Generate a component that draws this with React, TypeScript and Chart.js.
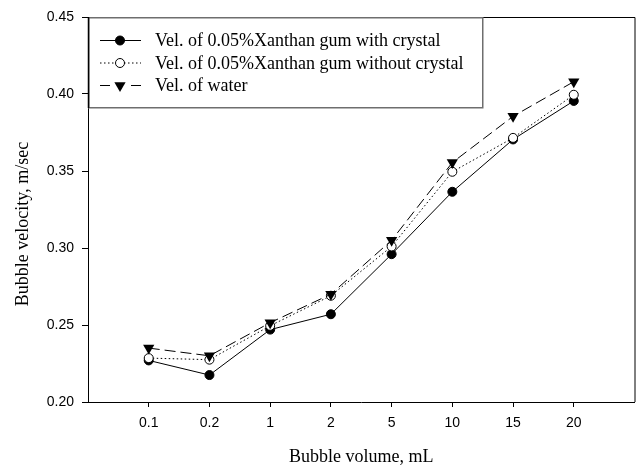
import React, { useEffect, useRef } from "react";
import { Chart, registerables } from "chart.js";

Chart.register(...registerables);

const categories = ["0.1", "0.2", "1", "2", "5", "10", "15", "20"];
const withCrystal = [0.227, 0.2175, 0.247, 0.257, 0.296, 0.3365, 0.3705, 0.3955];
const withoutCrystal = [0.2285, 0.2275, 0.2495, 0.269, 0.301, 0.3495, 0.3715, 0.3995];
const water = [0.235, 0.23, 0.2515, 0.27, 0.305, 0.3555, 0.3855, 0.408];
const seriesLabels = [
  "Vel. of 0.05%Xanthan gum with crystal",
  "Vel. of 0.05%Xanthan gum without crystal",
  "Vel. of water",
];
const yTicks = [0.2, 0.25, 0.3, 0.35, 0.4, 0.45];
const xTitle = "Bubble volume, mL";
const yTitle = "Bubble velocity, m/sec";

const toPoints = (arr: number[]) => arr.map((v, i) => ({ x: i, y: v }));

function drawMarker(ctx: CanvasRenderingContext2D, kind: string, x: number, y: number) {
  ctx.save();
  ctx.setLineDash([]);
  ctx.lineWidth = 1;
  ctx.strokeStyle = "#000";
  if (kind === "filled" || kind === "open") {
    ctx.beginPath();
    ctx.arc(x, y, 4.5, 0, Math.PI * 2);
    ctx.fillStyle = kind === "filled" ? "#000" : "#fff";
    ctx.fill();
    ctx.stroke();
  } else {
    const r = 6.5;
    ctx.beginPath();
    ctx.moveTo(x - r * 0.866, y - r * 0.5);
    ctx.lineTo(x + r * 0.866, y - r * 0.5);
    ctx.lineTo(x, y + r);
    ctx.closePath();
    ctx.fillStyle = "#000";
    ctx.fill();
  }
  ctx.restore();
}

const markerKinds = ["filled", "open", "tri"];

const framePlugin = {
  id: "frame",
  afterDatasetsDraw(chart: any) {
    const { ctx, chartArea } = chart;
    const { left, right, top, bottom } = chartArea;
    ctx.save();
    ctx.strokeStyle = "#000";
    ctx.lineWidth = 1;
    ctx.beginPath();
    ctx.moveTo(left, top + 0.5);
    ctx.lineTo(right + 0.5, top + 0.5);
    ctx.lineTo(right + 0.5, bottom);
    ctx.stroke();
    ctx.restore();
  },
};

const titlesPlugin = {
  id: "axisTitles",
  afterDraw(chart: any) {
    const { ctx, chartArea } = chart;
    const { left, right } = chartArea;
    ctx.save();
    ctx.fillStyle = "#000";
    ctx.font = '18px "Liberation Serif"';
    ctx.textAlign = "center";
    ctx.textBaseline = "middle";
    ctx.fillText(xTitle, (left + right) / 2, 457);
    ctx.translate(23, 224);
    ctx.rotate(-Math.PI / 2);
    ctx.fillText(yTitle, 0, 0);
    ctx.restore();
  },
};

const legendPlugin = {
  id: "boxLegend",
  afterDraw(chart: any) {
    const { ctx, chartArea } = chart;
    const { left, top } = chartArea;
    const boxW = 394;
    const boxH = 90;
    ctx.save();
    ctx.fillStyle = "#fff";
    ctx.fillRect(left, top, boxW, boxH);
    ctx.strokeStyle = "#6e6e6e";
    ctx.lineWidth = 1.5;
    ctx.strokeRect(left + 0.75, top + 0.75, boxW, boxH);
    ctx.strokeStyle = "#000";
    ctx.lineWidth = 1.5;
    ctx.beginPath();
    ctx.moveTo(left + 0.5, top);
    ctx.lineTo(left + 0.5, top + boxH + 1);
    ctx.stroke();
    chart.data.datasets.forEach((ds: any, i: number) => {
      const y = top + 23.5 + i * 22.5;
      ctx.strokeStyle = "#000";
      ctx.lineWidth = 1;
      ctx.setLineDash(ds.borderDash || []);
      ctx.beginPath();
      if (i === 2) {
        ctx.setLineDash([]);
        ctx.moveTo(left + 12, y);
        ctx.lineTo(left + 22, y);
        ctx.moveTo(left + 43, y);
        ctx.lineTo(left + 53, y);
      } else {
        ctx.moveTo(left + 12, y);
        ctx.lineTo(left + 53, y);
      }
      ctx.stroke();
      ctx.setLineDash([]);
      drawMarker(ctx, markerKinds[i], left + 32, y);
      ctx.fillStyle = "#000";
      ctx.font = '18px "Liberation Serif"';
      ctx.textBaseline = "middle";
      ctx.textAlign = "left";
      ctx.fillText(seriesLabels[i], left + 67, y + 1);
    });
    ctx.restore();
  },
};

export default function App() {
  const ref = useRef<HTMLCanvasElement | null>(null);
  useEffect(() => {
    if (!ref.current) return;
    const chart = new Chart(ref.current, {
      type: "line",
      data: {
        datasets: [
          {
            label: seriesLabels[0],
            data: toPoints(withCrystal),
            borderColor: "#000",
            borderWidth: 1,
            backgroundColor: "#000",
            pointStyle: "circle",
            pointRadius: 4.5,
            pointBorderColor: "#000",
            pointBackgroundColor: "#000",
            pointBorderWidth: 1,
            order: 3,
          },
          {
            label: seriesLabels[1],
            data: toPoints(withoutCrystal),
            borderColor: "#000",
            borderWidth: 1,
            borderDash: [1.5, 2.5],
            pointStyle: "circle",
            pointRadius: 4.5,
            pointBorderColor: "#000",
            pointBackgroundColor: "#fff",
            pointBorderWidth: 1,
            order: 2,
          },
          {
            label: seriesLabels[2],
            data: toPoints(water),
            borderColor: "#000",
            borderWidth: 1,
            borderDash: [11, 5],
            pointStyle: "triangle",
            rotation: 180,
            pointRadius: 6.5,
            pointBorderColor: "#000",
            pointBackgroundColor: "#000",
            pointBorderWidth: 0,
            order: 1,
          } as any,
        ],
      },
      options: {
        animation: false,
        responsive: false,
        devicePixelRatio: 1,
        layout: { padding: { top: 17, right: 3, left: 0, bottom: 0 } },
        plugins: { legend: { display: false }, tooltip: { enabled: false } },
        scales: {
          x: {
            type: "linear",
            min: -1,
            max: 8,
            afterBuildTicks: (scale: any) => {
              scale.ticks = categories.map((_, i) => ({ value: i }));
            },
            afterFit: (scale: any) => {
              scale.height = 65;
            },
            ticks: {
              autoSkip: false,
              maxRotation: 0,
              padding: 8,
              color: "#000",
              font: { family: '"Liberation Sans"', size: 14 },
              callback: (v: any) => categories[v as number] ?? "",
            },
            grid: {
              display: true,
              drawOnChartArea: false,
              drawTicks: true,
              tickLength: 5,
              color: "#000",
            },
            border: { display: true, color: "#000", width: 1 },
          },
          y: {
            type: "linear",
            min: 0.2,
            max: 0.45,
            afterBuildTicks: (scale: any) => {
              scale.ticks = yTicks.map((v) => ({ value: v }));
            },
            afterFit: (scale: any) => {
              scale.width = 88;
            },
            ticks: {
              padding: 8,
              color: "#000",
              font: { family: '"Liberation Sans"', size: 14 },
              callback: (v: any) => Number(v).toFixed(2),
            },
            grid: {
              display: true,
              drawOnChartArea: false,
              drawTicks: true,
              tickLength: 6,
              color: "#000",
            },
            border: { display: true, color: "#000", width: 1 },
          },
        },
      },
      plugins: [framePlugin, legendPlugin, titlesPlugin],
    });
    return () => chart.destroy();
  }, []);
  return (
    <canvas
      ref={ref}
      width={641}
      height={467}
      style={{ position: "absolute", left: 0, top: 0, display: "block", width: 641, height: 467 }}
    />
  );
}
